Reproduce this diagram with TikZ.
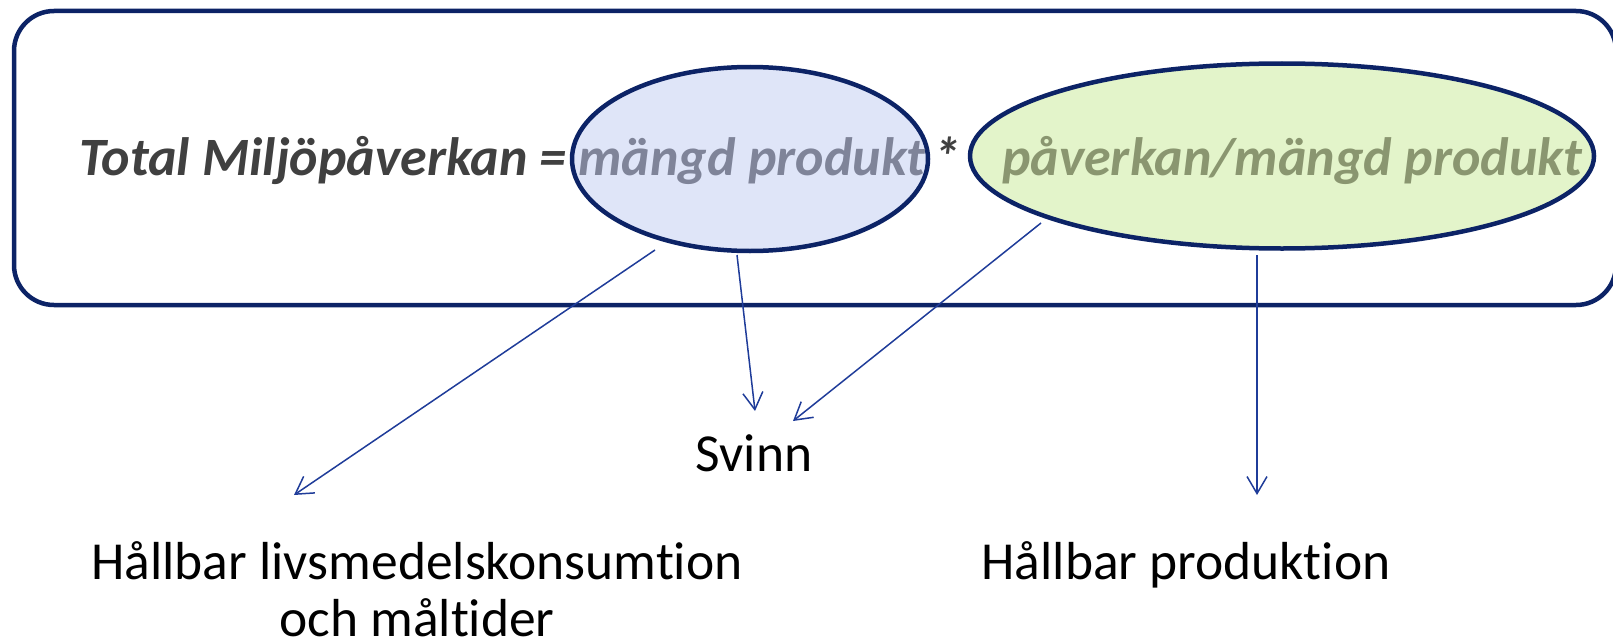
\documentclass[tikz,border=0pt]{standalone}
\usepackage{fontspec}
\setmainfont{Carlito}[Ligatures=NoCommon]
\usetikzlibrary{arrows.meta,shapes.geometric}
\definecolor{navy}{HTML}{0C2366}
\definecolor{arrowblue}{HTML}{1F3C99}
\definecolor{bluefill}{HTML}{DFE5F8}
\definecolor{greenfill}{HTML}{E3F4CA}
\definecolor{maintext}{HTML}{404040}
\definecolor{bluetext}{HTML}{7F8499}
\definecolor{greentext}{HTML}{8A9670}
\tikzset{
  bigtext/.style={font=\fontsize{54}{60}\selectfont\bfseries\itshape, inner sep=0pt},
  lowtext/.style={font=\fontsize{53.5}{60}\selectfont, inner sep=0pt, text=black, align=center},
  oval/.style={ellipse, draw=navy, line width=4.5pt, inner sep=0pt},
  conn/.style={draw=arrowblue, line width=1.5pt, -{Straight Barb[length=17pt,width=20pt,line width=1.5pt]}}
}
\begin{document}
\begin{tikzpicture}[x=1pt,y=-1pt]
\useasboundingbox (0,0) rectangle (1613,642);
\begin{scope}
\clip (0,0) rectangle (1613,642);
\draw[navy, line width=4.5pt, rounded corners=40pt] (14,11) rectangle (1616,305);
\end{scope}
\node[oval, fill=bluefill, minimum width=356pt, minimum height=184pt] (e1) at (750,159) {};
\node[oval, fill=greenfill, minimum width=624pt, minimum height=185pt] (e2) at (1282,156) {};
\node[bigtext, text=maintext, anchor=base east] (t1) at (567,175) {Total Miljöpåverkan =};
\node[bigtext, text=bluetext, anchor=base] (t2) at (752,175) {mängd produkt};
\node[bigtext, text=maintext, anchor=base] (star) at (947,175) {*};
\node[bigtext, text=greentext, anchor=base] (t3) at (1292,175) {påverkan/mängd produkt};
\node[lowtext, anchor=base] (svinn) at (754,471) {Svinn};
\node[lowtext, anchor=base] (cons) at (417,579) {Hållbar livsmedelskonsumt\kern0pt ion};
\node[lowtext, anchor=base] (cons2) at (417,636) {och målt\kern0pt ider};
\node[lowtext, anchor=base] (prod) at (1186,579) {Hållbar produkt\kern0pt ion};
\coordinate (a1s) at (655,250);
\coordinate (a1e) at (294,495);
\coordinate (a2s) at (737,255);
\coordinate (a2e) at (755,411);
\coordinate (a3s) at (1041,223);
\coordinate (a3e) at (793,421);
\coordinate (a4s) at (1257,255);
\coordinate (a4e) at (1257,495);
\draw[conn] (a1s) -- (a1e);
\draw[conn] (a2s) -- (a2e);
\draw[conn] (a3s) -- (a3e);
\draw[conn] (a4s) -- (a4e);
\end{tikzpicture}
\end{document}
